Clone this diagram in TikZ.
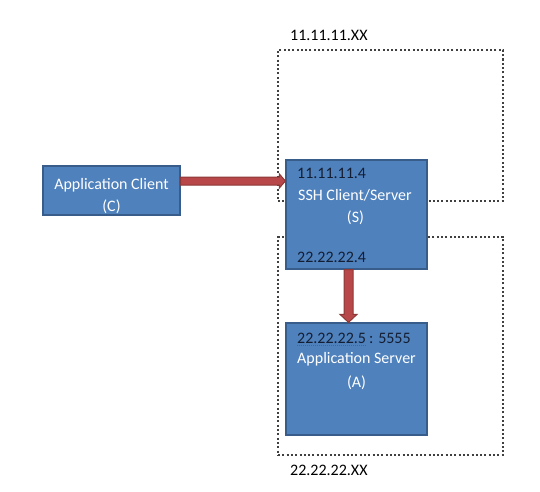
\documentclass[tikz,border=0pt]{standalone}
\usepackage{fontspec}
\setmainfont{Carlito}
\usetikzlibrary{calc}
\definecolor{boxfill}{HTML}{4F81BD}
\definecolor{boxline}{HTML}{385D8A}
\definecolor{arrfill}{HTML}{B8474A}
\definecolor{arrline}{HTML}{8C3836}
\definecolor{dotline}{HTML}{404040}
\definecolor{darktext}{HTML}{141E32}
\begin{document}
\begin{tikzpicture}[x=1pt,y=1pt,
  blockbox/.style={draw=boxline, fill=boxfill, line width=1.2pt, inner sep=0pt, anchor=center},
  zone/.style={draw=dotline, line width=2pt, dash pattern=on 2pt off 2.3pt, inner sep=0pt},
  wtext/.style={text=white, font=\fontsize{16}{19}\selectfont, inner sep=0pt},
  dtext/.style={text=darktext, font=\fontsize{16}{19}\selectfont, inner sep=0pt, anchor=west},
  ltext/.style={text=black, font=\fontsize{16}{19}\selectfont, inner sep=0pt, anchor=west},
  spell/.style={draw=darktext!70, line width=0.8pt, dash pattern=on 0.8pt off 1.2pt},
  blockarrow/.style={draw=arrline, fill=arrfill, line width=1pt, line join=miter}]
\useasboundingbox (0,0) rectangle (540,491);
% dotted zones
\node[zone, minimum width=225pt, minimum height=151pt] (z1) at (390.5,365.5) {};
\node[zone, minimum width=225pt, minimum height=218pt] (z2) at (390.5,145) {};
\node[ltext] (lz1) at (290,456) {11.11.11.XX};
\node[ltext] (lz2) at (290,21) {22.22.22.XX};
% boxes
\node[blockbox, minimum width=137pt, minimum height=49pt] (c) at (111.5,300.5) {};
\node[blockbox, minimum width=141pt, minimum height=109pt] (s) at (356.5,276.5) {};
\node[blockbox, minimum width=141pt, minimum height=112pt] (a) at (356.5,112) {};
% arrows
\filldraw[blockarrow] let \p1=(c.east), \p2=(s.west) in
  (\x1,306pt) -- (\x2-6pt,306pt) -- (\x2-6pt,303pt) -- (\x2,310pt)
  -- (\x2-6pt,317pt) -- (\x2-6pt,314pt) -- (\x1,314pt) -- cycle;
\filldraw[blockarrow] let \p1=(s.south), \p2=(a.north) in
  (344pt,\y1) -- (344pt,\y2+8pt) -- (340pt,\y2+8pt) -- (348.5pt,\y2)
  -- (357pt,\y2+8pt) -- (353pt,\y2+8pt) -- (353pt,\y1) -- cycle;
% client text
\node[wtext] (cname) at (111.5,306) {Application Client};
\node[wtext] (clab) at (111.5,284) {(C)};
% ssh text
\node[dtext] (sip1) at (297,318) {11.11.11.4};
\node[wtext] (sname) at (355,296) {SSH Client/Server};
\node[wtext] (slab) at (355.5,273) {(S)};
\node[dtext] (sip2) at (297,234) {22.22.22.4};
% server text
\node[dtext] (aip) at (297,153) {22.22.22.5};
\node[dtext] (aport) at (aip.east) {\,: 5555};
\draw[spell] ([yshift=-2pt]aip.south west) -- ([yshift=-2pt]aip.south east);
\node[wtext] (aname) at (356.5,132) {Application Server};
\node[wtext] (alab) at (356.5,108) {(A)};
\end{tikzpicture}
\end{document}
